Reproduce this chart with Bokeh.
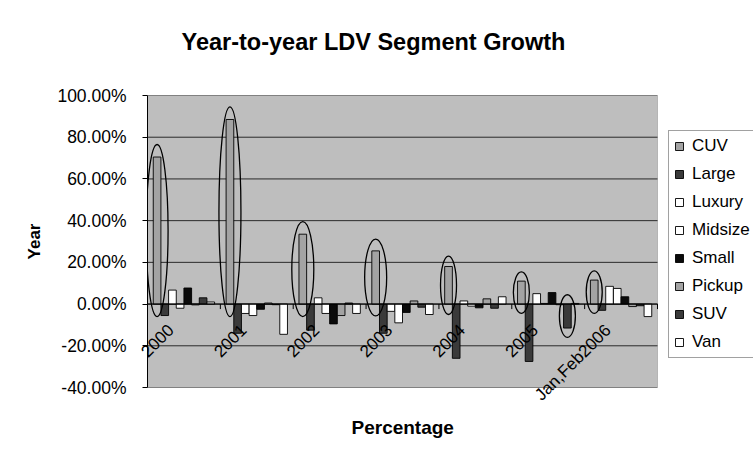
import math
from bokeh.plotting import figure
from bokeh.models import (ColumnDataSource, FixedTicker, NumeralTickFormatter,
                          Legend, LegendItem, Range1d, BoxAnnotation, Title)
from bokeh.transform import dodge
from bokeh.embed import file_html
from bokeh.resources import INLINE

# ---------------- data ----------------
years = ["2000", "2001", "2002", "2003", "2004", "2005", "Jan,Feb2006"]
segments = ["CUV", "Large", "Luxury", "Midsize", "Small", "Pickup", "SUV", "Van"]

cuv     = [0.705, 0.885, 0.335, 0.255, 0.180, 0.110, 0.115]
large   = [-0.055, -0.140, -0.125, -0.140, -0.260, -0.275, -0.030]
luxury  = [0.067, -0.045, 0.030, -0.035, 0.015, 0.050, 0.085]
midsize = [-0.020, -0.055, -0.045, -0.090, -0.010, 0.003, 0.075]
small   = [0.077, -0.025, -0.095, -0.040, -0.018, 0.055, 0.035]
pickup  = [-0.004, 0.005, -0.055, 0.015, 0.025, -0.003, -0.012]
suv     = [0.030, -0.003, 0.005, -0.015, -0.020, -0.115, -0.008]
van     = [0.010, -0.145, -0.045, -0.050, 0.035, 0.003, -0.060]

y_ticks = [-0.4, -0.2, 0.0, 0.2, 0.4, 0.6, 0.8, 1.0]

# bars circled by hand on the original chart: (year index, segment)
circled = [(0, "CUV"), (1, "CUV"), (2, "CUV"), (3, "CUV"), (4, "CUV"),
           (5, "CUV"), (6, "CUV"), (5, "SUV")]

series = dict(zip(segments, [cuv, large, luxury, midsize, small, pickup, suv, van]))
colors = {"CUV": "#a3a3a3", "Large": "#3a3a3a", "Luxury": "#ffffff",
          "Midsize": "#ffffff", "Small": "#0a0a0a", "Pickup": "#a3a3a3",
          "SUV": "#3a3a3a", "Van": "#ffffff"}

FONT = "Liberation Sans"
n_seg = len(segments)
n_grp = len(years)
slot = 1.0 / (n_seg + 1.5)          # Excel gap width 150%

# layout: grey plot area 147..657 px, legend to its right inside the frame
W, H = 753, 452
AREA_L, AREA_R = 147, 657
AREA_T, AREA_B = 95, 387
px_per_group = (AREA_R - AREA_L) / n_grp
x_end = n_grp * (W - AREA_L) / (AREA_R - AREA_L)
y_lo, y_hi = y_ticks[0], y_ticks[-1]
px_per_unit_y = (AREA_B - AREA_T) / (y_hi - y_lo)

centers = [i + 0.5 for i in range(n_grp)]
src = ColumnDataSource(dict(x=centers, **series))

p = figure(width=W, height=H, x_range=Range1d(0, x_end),
           y_range=Range1d(y_lo, y_hi), output_backend="svg",
           toolbar_location=None,
           min_border_left=AREA_L, min_border_right=0,
           min_border_top=AREA_T, min_border_bottom=H - AREA_B)

p.background_fill_color = "white"
p.border_fill_color = "white"
p.outline_line_color = None

# grey plot area
p.add_layout(BoxAnnotation(left=0, right=n_grp, bottom=y_lo, top=y_hi,
                           fill_color="#bebebe", fill_alpha=1.0,
                           line_color="#555555", line_width=1, level="underlay"))

# title (an empty second line keeps it high above the plot area)
p.title.text = "Year-to-year LDV Segment Growth\n "
p.title.text_font = FONT
p.title.text_font_size = "23.5px"
p.title.text_font_style = "bold"
p.title.text_color = "black"
p.title.align = "left"
p.title.offset = 34
p.title.standoff = 29

# grid lines (only across the plot area)
p.xgrid.grid_line_color = None
p.ygrid.grid_line_color = None
p.segment(x0=[0] * len(y_ticks), x1=[n_grp] * len(y_ticks), y0=y_ticks, y1=y_ticks,
          line_color="#2a2a2a", line_width=1)

# y axis
p.yaxis.ticker = FixedTicker(ticks=y_ticks)
p.yaxis.formatter = NumeralTickFormatter(format="0.00%")
p.yaxis.major_label_text_font = FONT
p.yaxis.major_label_text_font_size = "17.5px"
p.yaxis.major_label_text_color = "black"
p.yaxis.major_tick_out = 5
p.yaxis.major_tick_in = 0
p.yaxis.minor_tick_line_color = None
p.yaxis.major_label_standoff = 16
p.yaxis.axis_line_color = "black"
p.yaxis.major_tick_line_color = "black"
p.yaxis.axis_label = "Year"
p.yaxis.axis_label_text_font = FONT
p.yaxis.axis_label_text_font_size = "17px"
p.yaxis.axis_label_text_font_style = "bold"
p.yaxis.axis_label_text_color = "black"
p.yaxis.axis_label_standoff = 10

# x axis: category labels pulled up next to the zero line
shift = 13.0 / px_per_group          # labels end a little left of the group centre
cat_ticks = [c - shift for c in centers]
p.xaxis.ticker = FixedTicker(ticks=cat_ticks)
p.xaxis.major_label_overrides = {t: lab for t, lab in zip(cat_ticks, years)}
p.xaxis.major_label_orientation = math.pi / 4
p.xaxis.axis_line_color = None
p.xaxis.major_tick_line_color = None
p.xaxis.minor_tick_line_color = None
p.xaxis.major_tick_out = 0
p.xaxis.major_tick_in = 0
p.xaxis.major_label_standoff = -60
p.xaxis.major_label_text_font = FONT
p.xaxis.major_label_text_font_size = "17px"
p.xaxis.major_label_text_color = "black"

# "Percentage" title under the plot area
p.add_layout(Title(text="Percentage", align="left", offset=204, standoff=0,
                   text_font=FONT, text_font_size="19px", text_font_style="bold",
                   text_color="black"), "below")

# bars
items = []
for j, seg in enumerate(segments):
    r = p.vbar(x=dodge("x", (j - (n_seg - 1) / 2) * slot, range=p.x_range),
               top=seg, bottom=0, width=slot, source=src,
               fill_color=colors[seg], line_color="black", line_width=0.9)
    items.append(LegendItem(label=seg, renderers=[r]))

# zero (category axis) line with small ticks between the groups
bounds = list(range(n_grp + 1))
tick_len = 5.0 / px_per_unit_y
p.segment(x0=[0], x1=[n_grp], y0=[0], y1=[0], line_color="black", line_width=1)
p.segment(x0=bounds, x1=bounds, y0=[0] * len(bounds), y1=[-tick_len] * len(bounds),
          line_color="black", line_width=1)

# hand-drawn ovals
ox, oy, oh, ow = [], [], [], []
for gi, seg in circled:
    j = segments.index(seg)
    v = series[seg][gi]
    pad = 0.035 + 0.025 * min(1.0, abs(v) / 0.3)
    top = max(v, 0) + pad
    bot = min(v, 0) - pad
    ox.append(gi + 0.5 + (j - (n_seg - 1) / 2) * slot)
    oy.append((top + bot) / 2)
    oh.append(top - bot)
    ow.append(22 if abs(v) > 0.2 else 16)
p.ellipse(x=ox, y=oy, width=ow, height=oh, width_units="screen",
          fill_color=None, line_color="black", line_width=1.3)

# legend right of the grey plot area
legend = Legend(items=items, location=(668 - AREA_L, 29), orientation="vertical",
                label_text_font=FONT, label_text_font_size="17px",
                label_text_color="black",
                glyph_width=10, glyph_height=10, label_standoff=8,
                padding=5, spacing=8, label_height=20,
                border_line_color="#444444", background_fill_color="white",
                background_fill_alpha=1.0, margin=0)
p.add_layout(legend, "center")

open("out.html", "w").write(file_html(p, INLINE))
